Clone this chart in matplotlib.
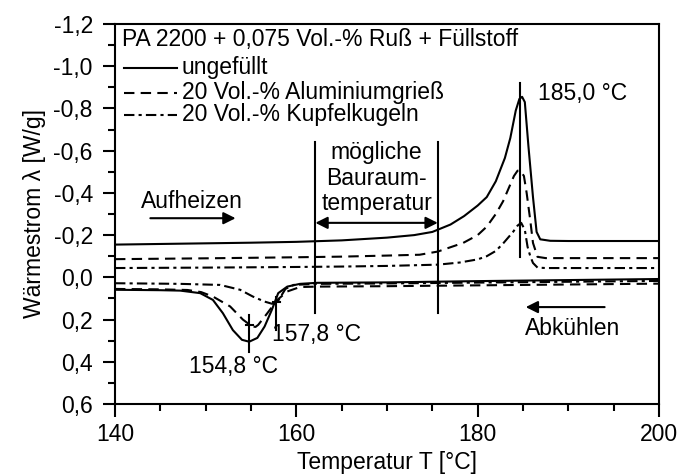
import matplotlib
matplotlib.use("Agg")
import matplotlib.pyplot as plt
from matplotlib.ticker import MultipleLocator, FuncFormatter

plt.rcParams['font.family'] = ['Liberation Sans', 'DejaVu Sans']
FS = 16.5
plt.rcParams['font.size'] = FS

# ---- data ----
# heating curves (negative = endothermic, upper part)
T_heat_ungef = [140, 145, 150, 155, 160, 165, 170, 173, 175, 177, 178.5, 180, 181, 182, 183,
                183.6, 184.2, 184.6, 184.9, 185.2, 185.6, 186.1, 186.5, 186.9, 188, 190, 195, 200]
W_heat_ungef = [-0.155, -0.158, -0.161, -0.164, -0.168, -0.175, -0.188, -0.2, -0.215, -0.25, -0.29,
                -0.34, -0.38, -0.455, -0.565, -0.66, -0.79, -0.845, -0.855, -0.83, -0.62, -0.38,
                -0.215, -0.18, -0.173, -0.172, -0.172, -0.172]

T_heat_al = [140, 150, 160, 165, 170, 173.6, 175.6, 178.4, 180, 181, 182, 182.8, 183.5, 184, 184.4,
             184.7, 185.1, 185.4, 185.8, 186.1, 186.6, 187.5, 190, 200]
W_heat_al = [-0.086, -0.09, -0.095, -0.098, -0.103, -0.107, -0.122, -0.163, -0.2, -0.24, -0.3, -0.36,
             -0.43, -0.48, -0.505, -0.505, -0.48, -0.40, -0.27, -0.163, -0.097, -0.091, -0.091, -0.091]

T_heat_cu = [140, 150, 160, 165, 170, 175.6, 178, 180, 181, 182, 182.8, 183.4, 183.9, 184.4, 184.8,
             185.2, 185.5, 185.8, 186.1, 186.6, 187.5, 190, 200]
W_heat_cu = [-0.044, -0.046, -0.049, -0.051, -0.054, -0.06, -0.07, -0.085, -0.1, -0.125, -0.16, -0.19,
             -0.215, -0.245, -0.258, -0.225, -0.145, -0.10, -0.068, -0.046, -0.044, -0.044, -0.044]

# cooling curves (positive = exothermic, lower part)
T_cool_ungef = [140, 145, 147.2, 149.4, 150.8, 151.9, 153, 154, 154.8, 155.7, 156.5, 157.3, 158, 159,
                160.4, 162.3, 170, 180, 190, 200]
W_cool_ungef = [0.059, 0.061, 0.063, 0.075, 0.107, 0.17, 0.25, 0.296, 0.305, 0.287, 0.233, 0.154,
                0.075, 0.044, 0.031, 0.026, 0.024, 0.018, 0.013, 0.008]

T_cool_al = [140, 145, 148, 149.5, 150.8, 152.7, 154.1, 155.1, 155.5, 155.8, 156.8, 157.9, 159, 160.4,
             162.3, 170, 180, 190, 200]
W_cool_al = [0.055, 0.057, 0.06, 0.07, 0.091, 0.138, 0.2, 0.232, 0.235, 0.225, 0.17, 0.107, 0.067,
             0.046, 0.044, 0.042, 0.038, 0.034, 0.03]

T_cool_cu = [140, 145, 147.2, 151.6, 153.8, 155.2, 156.5, 157.3, 157.8, 158.3, 158.8, 159.7, 162.3,
             170, 180, 190, 200]
W_cool_cu = [0.028, 0.03, 0.031, 0.036, 0.059, 0.091, 0.115, 0.125, 0.125, 0.09, 0.055, 0.036, 0.031,
             0.029, 0.025, 0.021, 0.017]

series_labels = ["ungefüllt", "20 Vol.-% Aluminiumgrieß", "20 Vol.-% Kupfelkugeln"]
legend_title = "PA 2200 + 0,075 Vol.-% Ruß + Füllstoff"

x_ticks = [140, 160, 180, 200]
y_ticks = [-1.2, -1.0, -0.8, -0.6, -0.4, -0.2, 0.0, 0.2, 0.4, 0.6]

peak_T = [184.7]
peak_label = "185,0 °C"
min_T = [154.8, 157.8]
min_labels = ["154,8 °C", "157,8 °C"]
bauraum_T = [162.1, 175.6]

# ---- figure ----
fig = plt.figure(figsize=(6.78, 4.75), dpi=100)
ax = fig.add_axes([0.1696, 0.1495, 0.8024, 0.80])

lw = 1.5
ls_dash = (0, (5, 3))
ls_dashdot = (0, (5, 2, 1.5, 2))
styles = ['-', ls_dash, ls_dashdot]

for T, W, ls in [(T_heat_ungef, W_heat_ungef, '-'), (T_heat_al, W_heat_al, ls_dash),
                 (T_heat_cu, W_heat_cu, ls_dashdot), (T_cool_ungef, W_cool_ungef, '-'),
                 (T_cool_al, W_cool_al, ls_dash), (T_cool_cu, W_cool_cu, ls_dashdot)]:
    ax.plot(T, W, color='black', lw=lw, linestyle=ls)

ax.set_xlim(140, 200)
ax.set_ylim(0.6, -1.2)

ax.set_xticks(x_ticks)
ax.set_yticks(y_ticks)
ax.xaxis.set_minor_locator(MultipleLocator(5))
ax.yaxis.set_minor_locator(MultipleLocator(0.1))

def fmt(v, pos):
    s = f"{v:.1f}".replace('.', ',')
    if s == "-0,0":
        s = "0,0"
    return s

ax.yaxis.set_major_formatter(FuncFormatter(fmt))
ax.tick_params(which='major', direction='out', length=9, width=1.5, labelsize=FS)
ax.tick_params(axis='y', which='major', pad=7)
ax.tick_params(axis='x', which='major', pad=5)
ax.tick_params(which='minor', direction='out', length=5, width=1.5)
for s in ax.spines.values():
    s.set_linewidth(1.5)

ax.set_xlabel("Temperatur T [°C]", fontsize=FS, labelpad=3)
ax.set_ylabel("Wärmestrom λ [W/g]", fontsize=FS, labelpad=5)

# vertical marker lines
ax.plot([peak_T[0], peak_T[0]], [-0.92, -0.095], color='black', lw=lw)
ax.text(186.6, -0.87, peak_label, ha='left', va='center', fontsize=FS)

for t in bauraum_T:
    ax.plot([t, t], [-0.64, 0.17], color='black', lw=lw)
ax.annotate('', xy=(bauraum_T[0], -0.258), xytext=(bauraum_T[1], -0.258),
            arrowprops=dict(arrowstyle='<|-|>', color='black', lw=lw, mutation_scale=18,
                            shrinkA=0, shrinkB=0))
ax.text(168.85, -0.47, "mögliche\nBauraum-\ntemperatur", ha='center', va='center',
        fontsize=FS, linespacing=1.12)

# minimum markers
ax.plot([min_T[0], min_T[0]], [0.178, 0.353], color='black', lw=lw)
ax.plot([min_T[0] - 0.4, min_T[0] + 0.4], [0.225, 0.225], color='black', lw=lw)
ax.plot([min_T[1], min_T[1]], [0.092, 0.249], color='black', lw=lw)
ax.plot([min_T[1] - 0.4, min_T[1] + 0.4], [0.115, 0.115], color='black', lw=lw)
ax.text(148.2, 0.423, min_labels[0], ha='left', va='center', fontsize=FS)
ax.text(157.3, 0.273, min_labels[1], ha='left', va='center', fontsize=FS)

# heating / cooling arrows
ax.annotate('', xy=(153.3, -0.28), xytext=(143.9, -0.28),
            arrowprops=dict(arrowstyle='-|>', color='black', lw=lw, mutation_scale=18,
                            shrinkA=0, shrinkB=0))
ax.text(142.9, -0.36, "Aufheizen", ha='left', va='center', fontsize=FS)
ax.annotate('', xy=(185.3, 0.141), xytext=(194.0, 0.141),
            arrowprops=dict(arrowstyle='-|>', color='black', lw=lw, mutation_scale=18,
                            shrinkA=0, shrinkB=0))
ax.text(190.5, 0.241, "Abkühlen", ha='center', va='center', fontsize=FS)

# legend (manual)
tr = ax.transAxes
def ax_xy(px, py):
    return ((px - 115) / (659 - 115), (404 - py) / (404 - 24))

x0, y0 = ax_xy(122, 40)
ax.text(x0, y0, legend_title, transform=tr, ha='left', va='center', fontsize=FS)
for i, (lab, ls) in enumerate(zip(series_labels, styles)):
    py = [68, 93, 115][i]
    xa, ya = ax_xy(124, py)
    xb, _ = ax_xy(177, py)
    xt, _ = ax_xy(182, py)
    ax.plot([xa, xb], [ya, ya], transform=tr, color='black', lw=lw, linestyle=ls)
    ax.text(xt, ya, lab, transform=tr, ha='left', va='center', fontsize=FS)

fig.savefig("out.png", dpi=100)
